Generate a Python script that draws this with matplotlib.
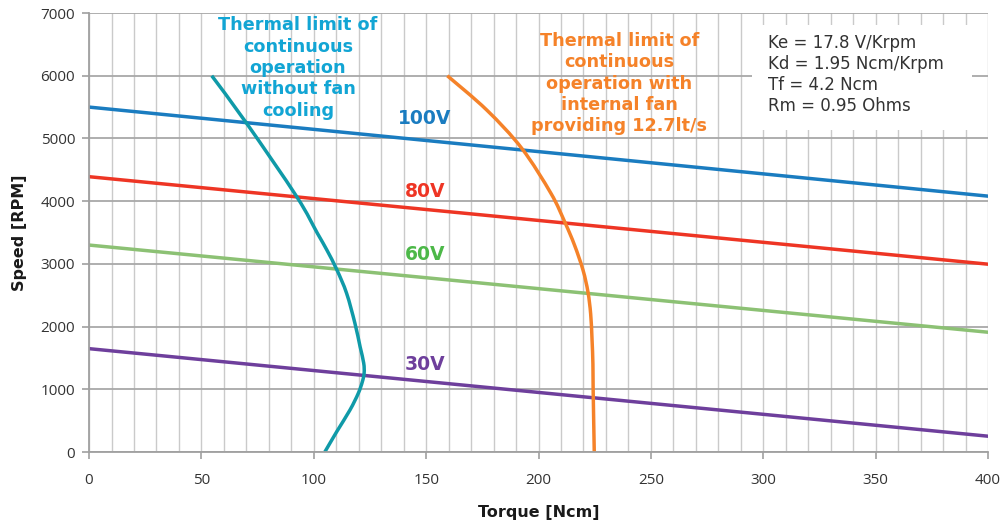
import matplotlib
matplotlib.use("Agg")
import matplotlib.pyplot as plt
from matplotlib.patches import Rectangle, PathPatch
from matplotlib.path import Path
import numpy as np

# Speed-torque lines at each supply voltage (torque [Ncm], speed [RPM])
voltage_labels = ["100V", "80V", "60V", "30V"]
line_torque = [0, 400]
speed_100v = [5500, 4080]
speed_80v = [4390, 2995]
speed_60v = [3300, 1910]
speed_30v = [1648, 252]

# Thermal limit, no fan cooling
nofan_torque = [54.6, 70.1, 92.4, 101.6, 105.8, 110.3, 114.6, 118.3,
                120.6, 122.2, 122.4, 121.6, 119.8, 116.1, 110.2, 104.9]
nofan_speed = [6000, 5242, 4072, 3488, 3222, 2903, 2531, 2053,
               1680, 1420, 1260, 1120, 936, 670, 324, 0]

# Thermal limit, internal fan 12.7 lt/s
fan_torque = [159.4, 176.9, 192.5, 205.5, 211.8, 216.0, 219.8, 222.0,
              223.2, 223.8, 224.2, 224.3, 224.8]
fan_speed = [6000, 5455, 4844, 4126, 3657, 3300, 2900, 2550,
             2200, 1800, 1400, 1000, 0]

motor_params = ["Ke = 17.8 V/Krpm", "Kd = 1.95 Ncm/Krpm",
                "Tf = 4.2 Ncm", "Rm = 0.95 Ohms"]


def smooth_path(xs, ys):
    """Bezier path passing through every given point (Catmull-Rom tangents)."""
    p = np.column_stack([xs, ys]).astype(float)
    n = len(p)
    verts = [p[0]]
    codes = [Path.MOVETO]
    for i in range(n - 1):
        p0 = p[i - 1] if i > 0 else p[i]
        p1, p2 = p[i], p[i + 1]
        p3 = p[i + 2] if i + 2 < n else p[i + 1]
        c1 = p1 + (p2 - p0) / 6.0
        c2 = p2 - (p3 - p1) / 6.0
        verts += [c1, c2, p2]
        codes += [Path.CURVE4] * 3
    return Path(verts, codes)


fig = plt.figure(figsize=(10.05, 5.27), dpi=100)
ax = fig.add_axes([0.0886, 0.1423, 0.8945, 0.833])

ax.set_xlim(0, 400)
ax.set_ylim(0, 7000)
ax.set_xticks(np.arange(0, 401, 50))
ax.set_xticks(np.arange(0, 401, 10), minor=True)
ax.set_yticks(np.arange(0, 7001, 1000))
ax.set_axisbelow(True)
ax.grid(True, axis="x", which="both", color="#cacaca", lw=1.0)
ax.grid(True, axis="y", which="major", color="#a8a8a8", lw=1.3)

for side in ("top", "right"):
    ax.spines[side].set_visible(False)
for side in ("left", "bottom"):
    ax.spines[side].set_color("#a0a0a0")
    ax.spines[side].set_linewidth(1.3)

ax.tick_params(axis="both", which="major", length=5, color="#a0a0a0",
               width=1.2, labelcolor="#333333", labelsize=11)
ax.tick_params(axis="x", which="major", pad=10)
ax.tick_params(axis="y", which="major", pad=5)
ax.tick_params(axis="x", which="minor", length=0)
for lab in ax.get_xticklabels() + ax.get_yticklabels():
    lab.set_family("Open Sans")

# Parameter box covers the grid behind it
ax.add_patch(Rectangle((295, 5135), 98, 1675, facecolor="white",
                       edgecolor="none", zorder=1))
ax.text(302, 6660, "\n".join(motor_params), fontsize=12, color="#333333",
        va="top", ha="left", linespacing=1.2, zorder=3)

lw = 2.5
ax.plot(line_torque, speed_100v, color="#1a7cc0", lw=lw, zorder=2)
ax.plot(line_torque, speed_80v, color="#ee3524", lw=lw, zorder=2)
ax.plot(line_torque, speed_60v, color="#8cc174", lw=lw, zorder=2)
ax.plot(line_torque, speed_30v, color="#6e3f9c", lw=lw, zorder=2)
ax.add_patch(PathPatch(smooth_path(nofan_torque, nofan_speed), fill=False,
                       edgecolor="#0f9aa8", lw=lw, capstyle="butt", zorder=2.5))
ax.add_patch(PathPatch(smooth_path(fan_torque, fan_speed), fill=False,
                       edgecolor="#f58229", lw=lw, capstyle="butt", zorder=2.5))

label_colors = ["#1a7cc0", "#ee3524", "#4cb848", "#6e3f9c"]
label_speeds = [5311, 4152, 3142, 1395]
for txt, c, y in zip(voltage_labels, label_colors, label_speeds):
    ax.text(149.5, y, txt, color=c, fontsize=13.5, fontweight="bold",
            ha="center", va="center", zorder=3)

ax.text(93, 6950, "Thermal limit of\ncontinuous\noperation\nwithout fan\ncooling",
        color="#12a5d4", fontsize=12.7, fontweight="bold", ha="center",
        va="top", linespacing=1.24, zorder=3)
ax.text(236, 6700, "Thermal limit of\ncontinuous\noperation with\ninternal fan\nproviding 12.7lt/s",
        color="#f58229", fontsize=12.7, fontweight="bold", ha="center",
        va="top", linespacing=1.24, zorder=3)

ax.set_xlabel("Torque [Ncm]", fontsize=11.5, fontweight="bold",
              color="#1a1a1a", labelpad=12)
ax.set_ylabel("Speed [RPM]", fontsize=11.5, fontweight="bold",
              color="#1a1a1a", labelpad=10)

fig.savefig("out.png", dpi=100)
